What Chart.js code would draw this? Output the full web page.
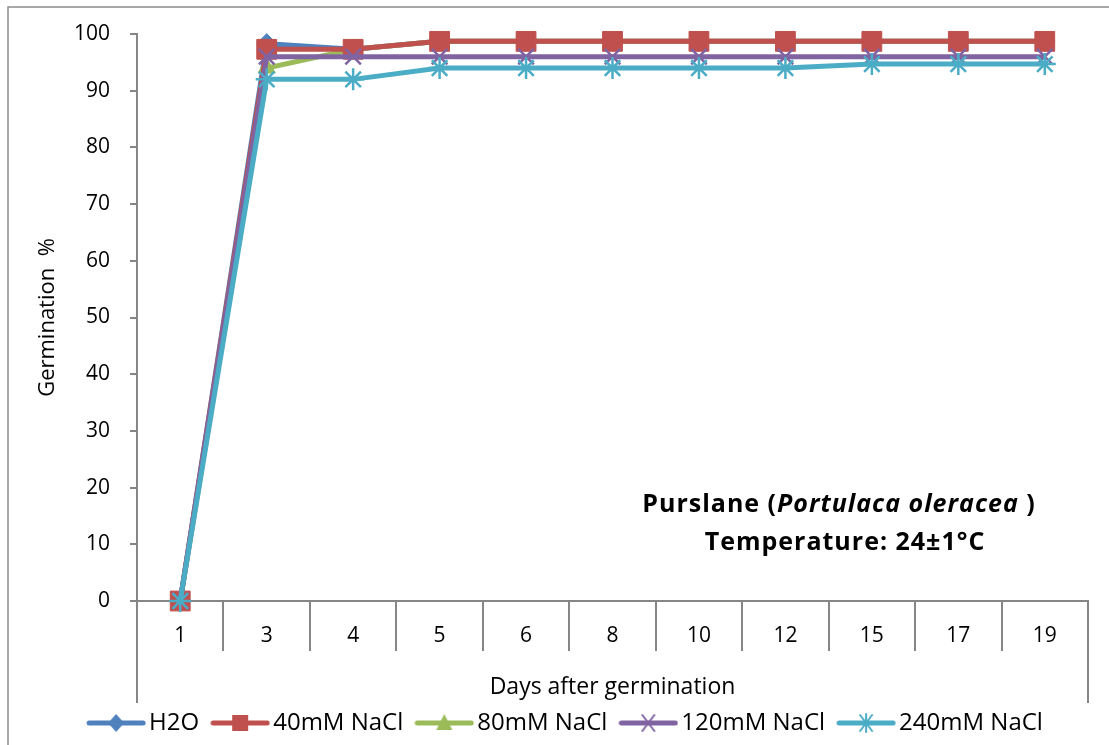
<!DOCTYPE html>
<html lang="en">
<head>
<meta charset="UTF-8">
<title>Purslane germination</title>
<script src="https://cdn.jsdelivr.net/npm/chart.js"></script>
<style>
    html, body { margin: 0; padding: 0; background: #fff; }
    #chart-container { width: 1109px; height: 745px; }
</style>
</head>
<body>
<div id="chart-container">
    <canvas id="lineChart" width="1109" height="745"></canvas>
</div>
<script>
// days after germination (category labels)
var days = ['1', '3', '4', '5', '6', '8', '10', '12', '15', '17', '19'];

// germination % per treatment
var h2o     = [0, 98.3, 97.3, 98.7, 98.7, 98.7, 98.7, 98.7, 98.7, 98.7, 98.7];
var nacl40  = [0, 97.3, 97.3, 98.7, 98.7, 98.7, 98.7, 98.7, 98.7, 98.7, 98.7];
var nacl80  = [0, 94, 97.3, 98.7, 98.7, 98.7, 98.7, 98.7, 98.7, 98.7, 98.7];
var nacl120 = [0, 96, 96, 96, 96, 96, 96, 96, 96, 96, 96];
var nacl240 = [0, 92, 92, 94, 94, 94, 94, 94, 94.7, 94.7, 94.7];

var yTicks = [0, 10, 20, 30, 40, 50, 60, 70, 80, 90, 100];

var FONT = "'Open Sans', 'Liberation Sans', sans-serif";
var AXIS = '#868686';

// z: stacking, lower draws later (on top)
var series = [
    { label: 'H2O',         data: h2o,     color: '#4F81BD', style: 'rectRot',  r: 10, z: 6 },
    { label: '40mM NaCl',   data: nacl40,  color: '#C0504D', style: 'rect',     r: 14, z: 4 },
    { label: '80mM NaCl',   data: nacl80,  color: '#9BBB59', style: 'triangle', r: 10, z: 5 },
    { label: '120mM NaCl',  data: nacl120, color: '#8064A2', style: 'crossRot', r: 11, z: 2 },
    { label: '240mM NaCl',  data: nacl240, color: '#4BACC6', style: 'star',     r: 11, z: 1 }
];

// small line + marker swatch for the legend
function legendIcon(s) {
    var c = document.createElement('canvas');
    c.width = 60; c.height = 22;
    var g = c.getContext('2d');
    g.strokeStyle = s.color; g.fillStyle = s.color;
    g.lineWidth = 5; g.lineCap = 'round';
    g.beginPath(); g.moveTo(3, 11); g.lineTo(57, 11); g.stroke();
    var cx = 30, cy = 11, r = 8;
    g.lineWidth = 2;
    g.beginPath();
    if (s.style === 'rectRot') {
        g.moveTo(cx, cy - r - 1); g.lineTo(cx + r, cy); g.lineTo(cx, cy + r + 1); g.lineTo(cx - r, cy); g.closePath(); g.fill();
    } else if (s.style === 'rect') {
        g.rect(cx - 8, cy - 8, 16, 16); g.fill();
    } else if (s.style === 'triangle') {
        g.moveTo(cx, cy - 9); g.lineTo(cx + 8, cy + 7); g.lineTo(cx - 8, cy + 7); g.closePath(); g.fill();
    } else if (s.style === 'crossRot') {
        g.moveTo(cx - 6, cy - 8); g.lineTo(cx + 6, cy + 8);
        g.moveTo(cx + 6, cy - 8); g.lineTo(cx - 6, cy + 8); g.stroke();
    } else {
        g.moveTo(cx, cy - 9); g.lineTo(cx, cy + 9);
        g.moveTo(cx - 6, cy - 8); g.lineTo(cx + 6, cy + 8);
        g.moveTo(cx + 6, cy - 8); g.lineTo(cx - 6, cy + 8); g.stroke();
    }
    return c;
}
series.forEach(function (s) { s.icon = legendIcon(s); });

// category box under the x axis, outer frame and the text box
var decorations = {
    id: 'decorations',
    afterLayout: function (chart) {
        // legend sits a little right of the plot centre
        chart.legend.left += 25;
        chart.legend.right += 25;
    },
    afterDraw: function (chart) {
        var ctx = chart.ctx, a = chart.chartArea, xs = chart.scales.x;
        ctx.save();
        ctx.strokeStyle = AXIS;
        ctx.lineWidth = 2;
        ctx.beginPath();
        for (var i = 1; i < days.length; i++) {
            var bx = Math.round((xs.getPixelForValue(i - 1) + xs.getPixelForValue(i)) / 2);
            ctx.moveTo(bx, a.bottom); ctx.lineTo(bx, a.bottom + 50);
        }
        ctx.moveTo(a.left, a.bottom); ctx.lineTo(a.left, a.bottom + 102);
        ctx.moveTo(a.right, a.bottom); ctx.lineTo(a.right, a.bottom + 102);
        ctx.stroke();

        // chart frame
        ctx.lineWidth = 1.5;
        ctx.strokeStyle = '#8c8c8c';
        ctx.strokeRect(8, 7, 1200, 800);

        // species / temperature note
        ctx.fillStyle = '#000';
        ctx.textBaseline = 'middle';
        ctx.textAlign = 'left';
        ctx.letterSpacing = '1px';
        var parts = [
            ['bold 25px ' + FONT, 'Purslane ('],
            ['italic bold 25px ' + FONT, 'Portulaca oleracea'],
            ['bold 25px ' + FONT, ' )']
        ];
        var w = 0;
        parts.forEach(function (p) { ctx.font = p[0]; w += ctx.measureText(p[1]).width; });
        var x = 839 - w / 2;
        parts.forEach(function (p) {
            ctx.font = p[0];
            ctx.fillText(p[1], x, 505);
            x += ctx.measureText(p[1]).width;
        });
        ctx.font = 'bold 25px ' + FONT;
        ctx.textAlign = 'center';
        ctx.fillText('Temperature: 24\u00b11\u00b0C', 845, 543);
        ctx.restore();
    }
};

var ctx = document.getElementById('lineChart').getContext('2d');
new Chart(ctx, {
    type: 'line',
    data: {
        labels: days,
        datasets: series.map(function (s) {
            var open = s.style === 'crossRot' || s.style === 'star';
            return {
                label: s.label,
                data: s.data,
                borderColor: s.color,
                backgroundColor: s.color,
                borderWidth: 5,
                pointStyle: s.style,
                pointRadius: s.r,
                pointBackgroundColor: s.color,
                pointBorderColor: s.color,
                pointBorderWidth: open ? 2.5 : 1,
                tension: 0,
                fill: false,
                clip: false,
                order: s.z
            };
        })
    },
    options: {
        responsive: false,
        animation: false,
        devicePixelRatio: 1,
        layout: { padding: { top: 34, right: 21, left: 0, bottom: 0 } },
        plugins: {
            tooltip: { enabled: false },
            legend: {
                position: 'bottom',
                labels: {
                    usePointStyle: true,
                    pointStyleWidth: 42,
                    padding: 20,
                    color: '#000',
                    font: { family: FONT, size: 24 },
                    generateLabels: function (chart) {
                        return series.map(function (s, i) {
                            return {
                                text: s.label,
                                pointStyle: s.icon,
                                fillStyle: s.color,
                                strokeStyle: s.color,
                                lineWidth: 0,
                                hidden: false,
                                datasetIndex: i
                            };
                        });
                    }
                }
            }
        },
        scales: {
            x: {
                type: 'category',
                offset: true,
                grid: { display: false, drawTicks: false },
                border: { color: AXIS, width: 2 },
                ticks: { color: '#000', padding: 22, font: { family: FONT, size: 21 } },
                title: {
                    display: true,
                    text: 'Days after germination',
                    color: '#000',
                    padding: { top: 0, bottom: -10 },
                    font: { family: FONT, size: 23 }
                },
                afterFit: function (s) { s.height = 90; }
            },
            y: {
                min: 0,
                max: 100,
                afterBuildTicks: function (s) { s.ticks = yTicks.map(function (v) { return { value: v }; }); },
                grid: { display: true, drawOnChartArea: false, drawTicks: true, tickLength: 7, color: AXIS, lineWidth: 2 },
                border: { color: AXIS, width: 2 },
                ticks: { color: '#000', padding: 20, font: { family: FONT, size: 21 } },
                title: {
                    display: true,
                    text: 'Germination  %',
                    color: '#000',
                    padding: { top: 35, bottom: 0 },
                    font: { family: FONT, size: 22 }
                },
                afterFit: function (s) { s.width = 137; }
            }
        }
    },
    plugins: [decorations]
});
</script>
</body>
</html>
